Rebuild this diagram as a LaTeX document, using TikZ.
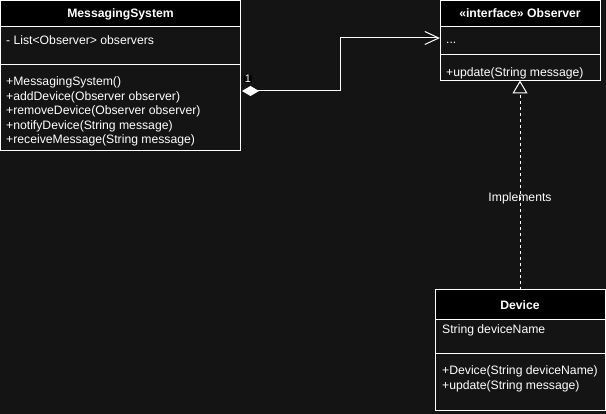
\documentclass[tikz,border=0pt]{standalone}
\usepackage{fontspec}
\setmainfont{Liberation Sans}
\usetikzlibrary{arrows.meta,positioning}

\definecolor{canvas}{HTML}{141414}

\tikzset{
    umlbox/.style={draw=white, line width=1pt, fill=canvas, inner sep=0pt, outer sep=0pt},
    umlhead/.style={umlbox, fill=black, text=white, text height=10.5pt, text depth=1.5pt,
        font=\bfseries\fontsize{12.2}{14.5}\selectfont},
    member/.style={anchor=base west, inner sep=0pt, text=white, align=left,
        font=\fontsize{12.2}{14.5}\selectfont},
    aggregation/.style={draw=white, line width=1pt,
        {Diamond[fill=white, length=17pt, width=10pt]}-{Straight Barb[length=14pt, width=13pt]}},
    realization/.style={draw=white, line width=1pt, dash pattern=on 3pt off 3pt,
        -{Triangle[open, fill=canvas, length=13pt, width=15pt]}},
}

\begin{document}
\begin{tikzpicture}[x=1pt, y=-1pt]
        % draw the background
        \fill[canvas] (0,0) rectangle (606,414);
        \useasboundingbox (0,0) rectangle (606,414);

        % draw the MessagingSystem class
        \node[umlhead, anchor=north west, minimum width=240pt, minimum height=26pt] (msHead) at (0.5,0.5) {MessagingSystem};
        \node[umlbox, minimum width=240pt, minimum height=38pt, below=0pt of msHead] (msAttrBox) {};
        \node[umlbox, minimum width=240pt, minimum height=86pt, below=0pt of msAttrBox] (msOpsBox) {};
        \node[member] (msAttr) at (6,45) {- List<Observer> observers};
        % (multi-line members sit on the baseline of their last line)
        \node[member] (msOps) at (6,144) {+MessagingSystem()\\+addDevice(Observer observer)\\+removeDevice(Observer observer)\\+notifyDevice(String message)\\+receiveMessage(String message)};

        % draw the Observer interface
        \node[umlhead, anchor=north west, minimum width=160pt, minimum height=26pt] (obsHead) at (440,0.5) {«interface» Observer};
        \node[umlbox, minimum width=160pt, minimum height=28pt, below=0pt of obsHead] (obsAttrBox) {};
        \node[umlbox, minimum width=160pt, minimum height=26pt, below=0pt of obsAttrBox] (obsOpsBox) {};
        \node[member] (obsAttr) at (446,44) {...};
        \node[member] (obsOps) at (446,76.5) {+update(String message)};

        % draw the Device class
        \node[umlhead, anchor=north west, minimum width=170pt, minimum height=30pt] (devHead) at (435,290) {Device};
        \node[umlbox, minimum width=170pt, minimum height=34pt, below=0pt of devHead] (devAttrBox) {};
        \node[umlbox, minimum width=170pt, minimum height=57pt, below=0pt of devAttrBox] (devOpsBox) {};
        \node[member] (devAttr) at (442,334) {String deviceName};
        \node[member] (devOps) at (442,389.5) {+Device(String deviceName)\\+update(String message)};

        % draw the aggregation from MessagingSystem to Observer
        \coordinate (aggStart) at (242,91);
        \coordinate (aggBend) at (340,38);
        \coordinate (aggEnd) at (440,38);
        \draw[aggregation] (aggStart) -| (aggBend) -- (aggEnd);
        \node[fill=black, text=white, inner sep=0.6pt, font=\fontsize{11}{12}\selectfont] (aggMult) at (248,79) {1};

        % draw the realization from Device to Observer
        \draw[realization] (devHead.north) -- (obsOpsBox.south)
            node[pos=0.438, text=white, font=\fontsize{12.2}{14.5}\selectfont] (implLabel) {Implements};
    \end{tikzpicture}
\end{document}
